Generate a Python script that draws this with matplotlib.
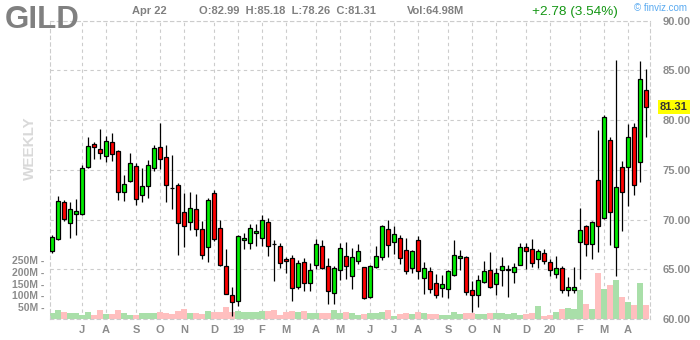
import numpy as np
import pandas as pd
import matplotlib
matplotlib.use("Agg")
import matplotlib.pyplot as plt
from matplotlib.transforms import blended_transform_factory

plt.rcParams["font.family"] = ["Liberation Sans", "DejaVu Sans"]

# weekly candles, GILD, Jun 2018 - Apr 2020
weeks = pd.date_range("2018-06-01", periods=100, freq="W-FRI")

opens = [66.85, 68.05, 71.78, 69.66, 70.54, 70.57, 75.30, 77.62, 77.11, 76.41,
         77.82, 76.91, 72.79, 73.83, 75.40, 72.48, 73.39, 75.20, 77.32, 76.31,
         73.21, 73.49, 70.77, 69.77, 71.07, 69.06, 67.25, 72.68, 69.16, 65.34,
         62.42, 61.79, 67.95, 67.60, 68.60, 68.19, 69.80, 67.50, 67.29, 65.99,
         66.09, 63.18, 65.69, 63.58, 65.42, 67.32, 65.28, 62.58, 64.88, 66.32,
         64.28, 65.79, 65.18, 62.24, 65.18, 66.25, 69.00, 67.79, 68.19, 66.89,
         65.08, 67.99, 64.08, 64.85, 63.58, 63.08, 62.98, 64.41, 66.09, 66.19,
         62.91, 62.37, 63.68, 64.88, 63.48, 64.95, 64.97, 64.68, 65.38, 67.19,
         67.06, 66.05, 66.59, 65.75, 64.52, 65.08, 62.91, 62.91, 67.73, 69.33,
         67.49, 73.95, 70.13, 77.96, 67.22, 75.28, 75.25, 79.26, 75.75, 82.99]
highs = [68.46, 72.32, 72.01, 71.81, 72.11, 75.50, 78.26, 77.82, 79.06, 78.39,
         78.66, 76.95, 74.43, 76.68, 75.70, 75.23, 75.94, 77.45, 79.66, 77.45,
         76.44, 73.72, 72.62, 72.79, 72.58, 69.87, 72.21, 72.92, 70.00, 67.08,
         63.26, 68.46, 68.66, 69.55, 69.53, 70.43, 70.20, 67.93, 67.69, 66.25,
         66.42, 65.92, 66.09, 65.59, 68.03, 67.93, 66.09, 65.35, 67.69, 67.73,
         67.09, 67.49, 65.20, 65.42, 67.36, 69.43, 69.93, 69.33, 68.46, 68.19,
         66.92, 68.33, 65.69, 65.25, 64.52, 64.41, 64.92, 67.99, 66.92, 66.32,
         63.85, 64.41, 65.85, 66.72, 65.08, 66.25, 65.42, 65.59, 67.66, 67.66,
         68.09, 67.02, 66.99, 66.05, 66.29, 65.35, 64.25, 65.18, 71.17, 69.46,
         69.87, 79.00, 80.47, 78.29, 86.02, 75.89, 79.56, 79.70, 85.92, 85.18]
lows = [66.64, 67.92, 69.83, 68.12, 68.49, 70.47, 75.17, 76.04, 76.04, 75.77,
        75.91, 72.01, 71.85, 73.76, 71.44, 71.81, 72.18, 74.87, 75.10, 71.78,
        71.01, 66.41, 67.21, 68.96, 68.39, 66.01, 65.70, 67.85, 65.30, 62.49,
        60.27, 61.27, 67.05, 67.00, 67.36, 67.32, 66.32, 63.85, 65.15, 64.65,
        61.84, 62.98, 62.84, 62.84, 64.98, 64.98, 61.47, 61.47, 63.91, 64.05,
        63.04, 65.48, 62.00, 62.07, 65.08, 65.92, 66.19, 66.52, 65.52, 64.52,
        64.58, 63.98, 62.47, 62.58, 62.11, 62.18, 62.11, 64.31, 64.92, 62.44,
        60.74, 61.24, 63.58, 63.08, 62.45, 63.31, 62.18, 63.65, 65.38, 65.02,
        65.25, 65.08, 65.52, 64.31, 64.11, 62.58, 62.31, 62.61, 64.05, 66.29,
        66.05, 66.69, 70.10, 67.46, 64.31, 68.89, 71.34, 72.51, 73.75, 78.26]
closes = [68.29, 71.91, 70.07, 71.07, 70.87, 75.20, 77.42, 77.32, 76.68, 77.92,
          76.61, 72.79, 73.59, 75.70, 72.08, 73.39, 75.47, 77.21, 76.11, 73.49,
          73.20, 69.66, 69.36, 71.17, 69.06, 66.44, 71.98, 68.05, 65.40, 62.52,
          61.71, 68.33, 68.19, 69.12, 68.83, 70.00, 67.29, 67.49, 65.59, 65.79,
          63.08, 65.59, 63.58, 64.92, 67.53, 65.08, 62.78, 65.08, 67.09, 65.35,
          66.25, 66.79, 62.07, 65.28, 66.29, 69.33, 67.39, 68.53, 66.09, 64.85,
          66.79, 64.78, 65.15, 62.98, 62.37, 63.48, 64.82, 66.42, 66.29, 62.68,
          62.37, 63.88, 64.82, 63.18, 64.58, 65.28, 64.98, 65.18, 67.19, 66.86,
          65.59, 66.79, 65.79, 64.92, 65.08, 62.88, 63.21, 63.21, 68.93, 67.49,
          69.77, 69.33, 80.27, 70.74, 73.28, 72.78, 78.26, 73.48, 84.08, 81.31]
# volume in millions
volumes = [24, 38, 30, 24, 24, 17, 30, 17, 38, 21,
           21, 38, 24, 17, 17, 24, 24, 24, 30, 24,
           21, 32, 41, 24, 24, 21, 34, 30, 30, 49,
           30, 34, 30, 30, 30, 34, 34, 38, 17, 30,
           34, 30, 34, 24, 24, 24, 24, 38, 27, 30,
           24, 17, 21, 24, 24, 30, 38, 13, 21, 24,
           21, 30, 24, 21, 21, 17, 17, 30, 21, 24,
           24, 21, 21, 24, 24, 24, 21, 24, 17, 21,
           24, 56, 14, 18, 30, 42, 46, 42, 123, 63,
           42, 194, 127, 144, 165, 93, 72, 59, 152, 59]

vol_ticks = [50, 100, 150, 200, 250]
price_ticks = [60, 65, 70, 75, 80, 85, 90]

x = np.arange(len(weeks))
o = np.array(opens)
c = np.array(closes)
up = c >= o
body_col = np.where(up, "#00ee00", "#ff0000")
vol_col = np.where(up, "#a9dfa9", "#ffbfbf")

# month ticks: first candle of each new month
months = weeks.month
tick_idx = [i for i in range(1, len(weeks)) if months[i] != months[i - 1]]
tick_lab = [weeks[i].strftime("%y") if weeks[i].month == 1 else weeks[i].strftime("%b")[0]
            for i in tick_idx]

fig = plt.figure(figsize=(7, 3.4), dpi=100)
axv = fig.add_axes([50 / 700, 21 / 340, 600 / 700, 298.4 / 340])
ax = axv.twinx()

grid_kw = dict(color="#cccccc", linestyle=(0, (3, 3)), linewidth=0.8)

axv.bar(x, volumes, width=0.85, color=vol_col, zorder=2)
axv.set_ylim(0, 1262)
axv.set_xlim(-0.33, 99.67)
axv.set_yticks(vol_ticks)
axv.set_yticklabels([f"{v}M -" for v in vol_ticks])
axv.tick_params(axis="y", length=0, pad=4, labelsize=7.5, labelcolor="#8c8c8c")
axv.set_xticks(tick_idx)
axv.set_xticklabels(tick_lab)
axv.tick_params(axis="x", length=0, pad=4, labelsize=8, labelcolor="#8c8c8c")
for lab in axv.get_xticklabels() + axv.get_yticklabels():
    lab.set_fontweight("bold")
axv.grid(axis="x", **grid_kw)
axv.set_axisbelow(True)
for s in axv.spines.values():
    s.set_color("#cccccc")
    s.set_linestyle((0, (3, 3)))
    s.set_linewidth(0.8)

ax.vlines(x, lows, highs, color="black", linewidth=0.9, zorder=3)
ax.bar(x, c - o, bottom=o, width=0.72, color=body_col, edgecolor="black",
       linewidth=0.9, zorder=4)
ax.set_ylim(60, 90)
ax.set_yticks(price_ticks)
ax.set_yticklabels([f"{v:.2f}" for v in price_ticks])
ax.tick_params(axis="y", length=0, pad=9, labelsize=8, labelcolor="#8c8c8c")
for lab in ax.get_yticklabels():
    lab.set_fontweight("bold")
ax.grid(axis="y", **grid_kw)
for s in ax.spines.values():
    s.set_visible(False)

# last close marker
tr = blended_transform_factory(ax.transAxes, ax.transData)
ax.text(1 + 10 / 600, closes[-1], f"{closes[-1]:.2f}", transform=tr, ha="left", va="center",
        fontsize=8, fontweight="bold", color="#333333",
        bbox=dict(facecolor="#ffff00", edgecolor="none", pad=1.5))

# header
def fx(px):
    return px / 700

def fy(py):
    return 1 - py / 340

fig.text(fx(5), fy(28), "GILD", fontsize=22.5, fontweight="bold", color="#808080", va="baseline")
fig.text(fx(132), fy(14), "Apr 22", fontsize=8, fontweight="bold", color="#808080", va="baseline")
fig.text(fx(199), fy(14), "O:82.99  H:85.18  L:78.26  C:81.31", fontsize=8,
         fontweight="bold", color="#808080", va="baseline")
fig.text(fx(407), fy(14), "Vol:64.98M", fontsize=8, fontweight="bold", color="#808080", va="baseline")
fig.text(fx(532), fy(15), "+2.78 (3.54%)", fontsize=9.7, color="#149614", va="baseline")
fig.text(fx(634), fy(11), "\u00a9 finviz.com", fontsize=7, color="#5aaaf0", va="baseline")
fig.text(fx(30), fy(148), "WEEKLY", rotation=90, ha="center", va="center",
         fontsize=11, fontweight="bold", color="#d9d9d9")

fig.savefig("out.png", dpi=100)
